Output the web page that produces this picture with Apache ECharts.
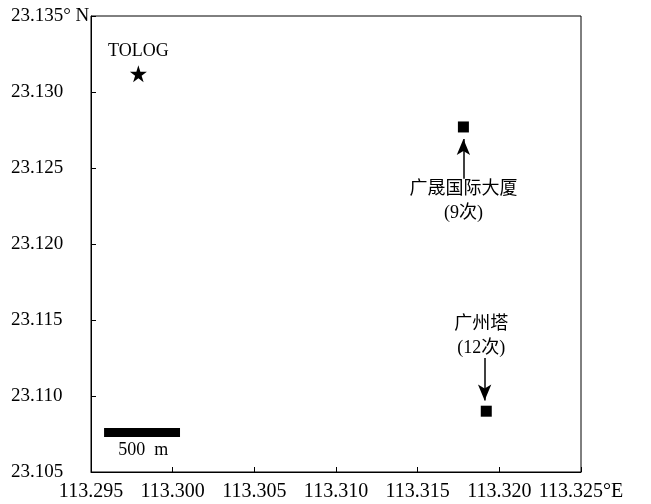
<!DOCTYPE html>
<html><head><meta charset="utf-8">
<script src="https://cdn.jsdelivr.net/npm/echarts@6/dist/echarts.min.js"></script>
<style>html,body{margin:0;padding:0;background:#fff}#c{width:651px;height:504px}</style>
</head><body><div id="c"></div>
<script>
// Data
const xTicks = [113.295, 113.300, 113.305, 113.310, 113.315, 113.320, 113.325];
const yTicks = [23.105, 23.110, 23.115, 23.120, 23.125, 23.130, 23.135];
const starPoint = [113.2979, 23.1312];
const starName = 'TOLOG';
const sites = ['广晟国际大厦', '广州塔'];
const siteCounts = ['(9次)', '(12次)'];
const siteLon = [113.3178, 113.3192];
const siteLat = [23.1277, 23.1090];
const arrowFrom = [[113.3178, 23.1243], [113.3191, 23.1125]];
const arrowTo = [[113.3178, 23.1269], [113.3191, 23.1097]];
const labelPos = [[113.3178, 23.1228], [113.3189, 23.1139]];
const scaleBar = [[113.2958, 23.1076], [113.30045, 23.1076]];
const scaleText = '500  m';
const scaleTextPos = [113.2982, 23.1064];

const serif = '"Liberation Serif","Noto Sans CJK SC",serif';
const chart = echarts.init(document.getElementById('c'), null, {renderer: 'canvas'});
const option = {
  animation: false,
  grid: {left: 91, right: 70, top: 16, bottom: 32, show: true, borderColor: '#000', borderWidth: 1},
  xAxis: {
    type: 'value', min: xTicks[0], max: xTicks[xTicks.length - 1], interval: 0.005,
    axisLine: {show: true, onZero: false, lineStyle: {color: '#000', width: 1}},
    axisTick: {show: true, inside: true, length: 5, lineStyle: {color: '#000'}},
    splitLine: {show: false},
    axisLabel: {color: '#000', fontFamily: serif, fontSize: 20, margin: 10,
      formatter: v => v.toFixed(3) + (Math.abs(v - xTicks[xTicks.length - 1]) < 1e-9 ? '°E' : '')}
  },
  yAxis: {
    type: 'value', min: yTicks[0], max: yTicks[yTicks.length - 1], interval: 0.005,
    axisLine: {show: true, onZero: false, lineStyle: {color: '#000', width: 1}},
    axisTick: {show: true, inside: true, length: 5, lineStyle: {color: '#000'}},
    splitLine: {show: false},
    axisLabel: {color: '#000', fontFamily: serif, fontSize: 19, margin: 80, align: 'left',
      formatter: v => v.toFixed(3) + (Math.abs(v - yTicks[yTicks.length - 1]) < 1e-9 ? '° N' : '')}
  },
  series: [
    {
      type: 'scatter', symbol: 'path://M50,0 L61.8,36.2 L100,36.2 L69.1,58.8 L80.9,95.1 L50,72.7 L19.1,95.1 L30.9,58.8 L0,36.2 L38.2,36.2 Z',
      symbolSize: 17, itemStyle: {color: '#000', opacity: 1},
      data: [{value: starPoint, name: starName}],
      label: {show: true, position: 'top', distance: 5, formatter: '{b}', color: '#000', fontFamily: serif, fontSize: 18}
    },
    {
      type: 'scatter', symbol: 'rect', symbolSize: 11, itemStyle: {color: '#000', opacity: 1},
      data: sites.map((s, i) => ({value: [siteLon[i], siteLat[i]], name: s})),
      markLine: {
        silent: true, symbol: ['none', 'arrow'], symbolSize: [10, 16],
        lineStyle: {color: '#000', width: 1.5, type: 'solid', opacity: 1},
        label: {show: false},
        data: arrowFrom.map((f, i) => [{coord: f}, {coord: arrowTo[i]}])
      }
    },
    {
      type: 'scatter', symbolSize: 0, itemStyle: {opacity: 1},
      data: sites.map((s, i) => ({value: labelPos[i], name: s + '\n' + siteCounts[i]})),
      label: {show: true, position: 'inside', formatter: '{b}', color: '#000', opacity: 1, fontFamily: serif, fontSize: 18, lineHeight: 24, align: 'center'}
    },
    {
      type: 'line', symbol: 'none', data: scaleBar,
      lineStyle: {color: '#000', width: 9, cap: 'butt', opacity: 1}
    },
    {
      type: 'scatter', symbolSize: 0, itemStyle: {opacity: 1},
      data: [{value: scaleTextPos, name: scaleText}],
      label: {show: true, position: 'inside', formatter: '{b}', color: '#000', opacity: 1, fontFamily: serif, fontSize: 18}
    }
  ]
};
chart.setOption(option);
</script>
</body></html>
